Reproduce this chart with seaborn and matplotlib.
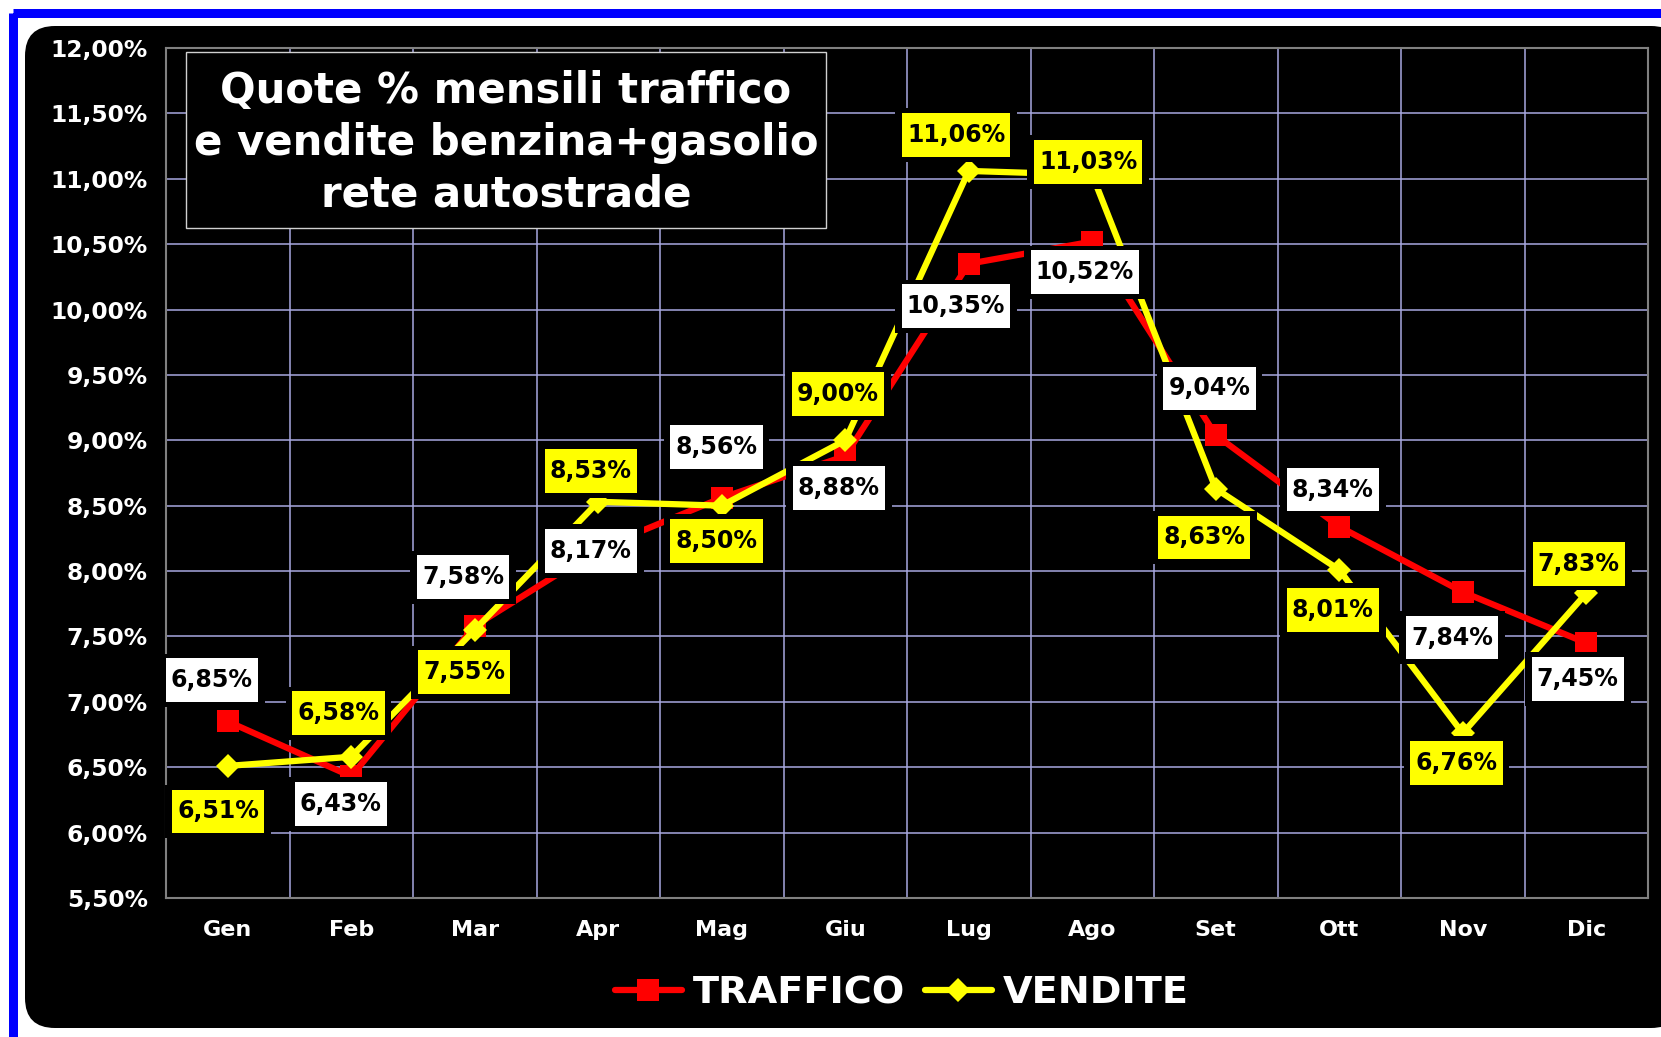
import matplotlib
matplotlib.use("Agg")
import matplotlib.pyplot as plt
import seaborn as sns
from functools import partial
from matplotlib.path import Path
from matplotlib.patches import Rectangle, FancyBboxPatch
from matplotlib.ticker import MultipleLocator, FuncFormatter

# Dati
mesi = ['Gen', 'Feb', 'Mar', 'Apr', 'Mag', 'Giu', 'Lug', 'Ago', 'Set', 'Ott', 'Nov', 'Dic']
traffico = [6.85, 6.43, 7.58, 8.17, 8.56, 8.88, 10.35, 10.52, 9.04, 8.34, 7.84, 7.45]
vendite = [6.51, 6.58, 7.55, 8.53, 8.50, 9.00, 11.06, 11.03, 8.63, 8.01, 6.76, 7.83]
titolo = "Quote % mensili traffico\ne vendite benzina+gasolio\nrete autostrade"

# spostamento etichette (pixel: dx, dy verso il basso)
off_traffico = [(-15, -39), (-10, 26), (-11, -46), (-7, 2), (-5, -48), (-6, 30),
                (-12, 40), (-7, 29), (-6, -44), (-6, -35), (-10, 43), (-8, 34)]
off_vendite = [(-9, 43), (-12, -41), (-10, 40), (-7, -29), (-5, 33), (-7, -44),
               (-12, -34), (-4, -12), (-11, 46), (-6, 38), (-6, 28), (-7, -28)]

sns.set_style("dark")
plt.rcParams['font.family'] = ['DejaVu Sans']
plt.rcParams['font.weight'] = 'bold'

W, H = 1661, 1037
fig = plt.figure(figsize=(W / 100, H / 100), dpi=100, facecolor='white')

# sfondo: cornice blu e riquadro nero arrotondato
bg = fig.add_axes([0, 0, 1, 1], zorder=-1)
bg.set_xlim(0, W)
bg.set_ylim(H, 0)
bg.axis('off')
bg.add_patch(Rectangle((12.5, 12.5), 2000, 2000, facecolor='none',
                       edgecolor='#0000ff', lw=9 * 0.72))
bg.add_patch(FancyBboxPatch((25, 26), W + 20 - 25, 1028 - 26,
                            boxstyle="round,pad=0,rounding_size=30",
                            facecolor='black', edgecolor='none'))

ax = fig.add_axes([166 / W, 1 - 898 / H, (1648 - 166) / W, (898 - 48) / H])
ax.set_facecolor('black')

sns.lineplot(x=list(range(12)), y=traffico, ax=ax, color='#ff0000', lw=4.5,
             marker='s', markersize=16.5, markeredgewidth=0, label='TRAFFICO', zorder=3)
sns.lineplot(x=list(range(12)), y=vendite, ax=ax, color='#ffff00', lw=4.5,
             marker='D', markersize=12.5, markeredgewidth=0, label='VENDITE', zorder=3.1)

ax.set_xlim(-0.5, 11.5)
ax.set_ylim(5.5, 12.0)
ax.set_xticks(range(12))
ax.set_xticklabels(mesi)
ax.xaxis.set_minor_locator(MultipleLocator(1, offset=0.5))
ax.yaxis.set_major_locator(MultipleLocator(0.5))
ax.yaxis.set_major_formatter(FuncFormatter(lambda v, p: f"{v:.2f}%".replace('.', ',')))
ax.grid(False)
ax.grid(True, axis='y', which='major', color='#a8a8e0', lw=1.1)
ax.grid(True, axis='x', which='minor', color='#a8a8e0', lw=1.1)
ax.tick_params(axis='both', which='both', length=0, colors='white')
ax.tick_params(axis='y', pad=13, labelsize=16.8)
ax.tick_params(axis='x', pad=16, labelsize=16)
for lab in ax.get_xticklabels() + ax.get_yticklabels():
    lab.set_fontweight('bold')
for s in ax.spines.values():
    s.set_color('#808080')
    s.set_linewidth(1.5)
ax.set_xlabel('')
ax.set_ylabel('')


def riquadro(x0, y0, width, height, mutation_size, padx=0.22, pady=0.42):
    px, py = padx * mutation_size, pady * mutation_size
    return Path([(x0 - px, y0 - py), (x0 + width + px, y0 - py),
                 (x0 + width + px, y0 + height + py), (x0 - px, y0 + height + py),
                 (x0 - px, y0 - py)], closed=True)


# etichette dei valori
scala = W / 1568
def etichetta(serie, offs, colore):
    for i, (v, (dx, dy)) in enumerate(zip(serie, offs)):
        testo = f"{v:.2f}%".replace('.', ',')
        pos = (dx * scala, -dy * scala)
        ax.annotate(testo, (i, v), xytext=pos, textcoords='offset pixels',
                    ha='center', va='center', fontsize=17, fontweight='bold',
                    color='black', zorder=4,
                    bbox=dict(boxstyle=partial(riquadro, padx=0.5, pady=0.62),
                              fc='black', ec='none'))
        ax.annotate(testo, (i, v), xytext=pos, textcoords='offset pixels',
                    ha='center', va='center', fontsize=17, fontweight='bold',
                    color='black', zorder=5,
                    bbox=dict(boxstyle=riquadro, fc=colore, ec='none'))

etichetta(traffico, off_traffico, 'white')
etichetta(vendite, off_vendite, '#ffff00')

# titolo nel riquadro
fig.add_artist(Rectangle((186 / W, 1 - 228 / H), (826 - 186) / W, (228 - 52) / H,
                         transform=fig.transFigure, facecolor='black',
                         edgecolor='#d0d0d0', lw=1, zorder=5))
fig.text(506 / W, 1 - 143 / H, titolo, ha='center', va='center', color='white',
         fontsize=30.2, fontweight='bold', linespacing=1.3, zorder=6)

# legenda
ax.legend(loc='center', bbox_to_anchor=(902 / W, 1 - 993 / H), bbox_transform=fig.transFigure,
          ncol=2, frameon=False, handlelength=1.75, columnspacing=0.5,
          handletextpad=0.3, labelcolor='white', prop={'weight': 'bold', 'size': 27.5})

fig.savefig('out.png', dpi=100, facecolor='white')
